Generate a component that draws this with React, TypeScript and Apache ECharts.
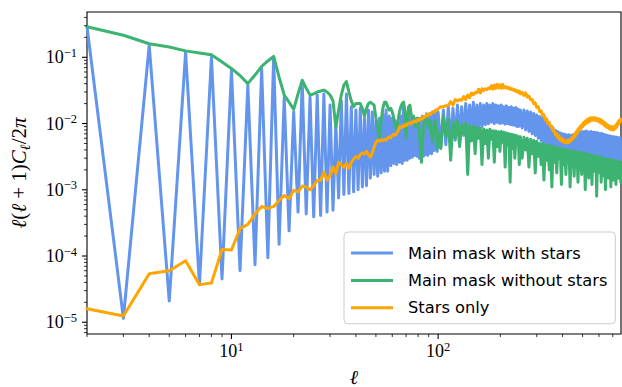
import { useEffect, useRef } from "react";
import * as echarts from "echarts";

// Multipole grid: every ℓ up to 100, then every 3rd up to 250, then every 5th.
function range(a: number, b: number, step: number): number[] {
  const out: number[] = [];
  for (let v = a; v <= b; v += step) out.push(v);
  return out;
}
const ELL = [...range(2, 100, 1), ...range(103, 250, 3), ...range(255, 765, 5)];

// Axis extents and tick values
const X_MIN = 2;
const X_MAX = 767;
const Y_MIN = 6.65e-6;
const Y_MAX = 0.483;
const X_MAJOR = [10, 100];
const Y_MAJOR = [1e-5, 1e-4, 1e-3, 1e-2, 1e-1];

const SERIES_NAMES = ["Main mask with stars", "Main mask without stars", "Stars only"];
const COLORS = ["#6495ED", "#3CB371", "#FFA500"];

// ---- Main mask with stars ----
const BLUE_LOW = [
  0.29, 1.15e-5, 0.152, 2.1e-5, 0.12, 3.7e-5, 0.10, 4.5e-5, 0.064,
  6.0e-5, 0.038, 7.4e-5, 0.067, 9.4e-5, 0.10, 1.5e-4, 0.025, 2.4e-4, 0.015,
  4.6e-4, 0.043, 4.3e-4, 0.025, 3.9e-4, 0.027, 4.1e-4, 0.028, 4.6e-4, 0.019,
  4.9e-4, 0.0099, 7.5e-4, 0.022, 8.5e-4, 0.028, 8.8e-4, 0.018, 9.3e-4, 0.016,
  1.0e-3, 0.017, 1.1e-3, 0.012, 1.15e-3, 0.016, 1.5e-3, 0.015, 1.7e-3, 0.011,
  1.6e-3, 0.012, 1.8e-3, 0.014, 1.9e-3, 0.016, 1.9e-3, 0.013, 2.3e-3, 0.012,
  2.5e-3, 0.011, 2.4e-3, 0.010, 2.6e-3, 0.013, 2.5e-3, 0.018, 2.8e-3, 0.011,
  2.8e-3, 0.014, 3.0e-3, 0.012, 3.1e-3, 0.012, 3.3e-3, 0.010, 3.2e-3, 0.012,
  3.0e-3, 0.012, 2.9e-3, 0.013, 3.2e-3, 0.012, 3.4e-3, 0.014, 3.3e-3, 0.013,
  3.6e-3, 0.014, 3.5e-3, 0.015, 3.9e-3, 0.014, 4.0e-3, 0.016, 3.8e-3, 0.015,
];
const BLUE_MID = [
  4.3e-3, 1.6e-2, 4.8e-3, 1.8e-2, 5.0e-3, 1.7e-2, 5.6e-3, 1.9e-2, 6.0e-3, 1.8e-2,
  6.6e-3, 2.0e-2, 7.0e-3, 1.9e-2, 7.8e-3, 2.1e-2, 8.2e-3, 1.9e-2, 8.8e-3, 2.0e-2,
  9.0e-3, 1.9e-2, 9.6e-3, 2.0e-2, 9.9e-3, 1.9e-2, 1.05e-2, 2.0e-2, 1.0e-2, 1.9e-2,
  1.04e-2, 1.85e-2, 1.0e-2, 1.9e-2, 1.02e-2, 1.8e-2, 9.8e-3, 1.85e-2, 1.0e-2, 1.75e-2,
  9.7e-3, 1.8e-2, 9.5e-3, 1.7e-2, 9.4e-3, 1.75e-2, 9.0e-3, 1.65e-2, 9.1e-3, 1.6e-2,
];
const BLUE_HIGH = [
  8.6e-3, 1.6e-2, 8.0e-3, 1.55e-2, 7.6e-3, 1.5e-2, 7.0e-3, 1.42e-2, 6.6e-3, 1.35e-2,
  6.0e-3, 1.28e-2, 5.5e-3, 1.2e-2, 5.0e-3, 1.06e-2, 4.6e-3, 1.0e-2, 4.5e-3, 9.2e-3,
  4.3e-3, 8.6e-3, 4.2e-3, 7.9e-3, 4.0e-3, 7.5e-3, 4.0e-3, 7.2e-3, 3.9e-3, 7.0e-3,
  3.8e-3, 6.9e-3, 3.8e-3, 6.7e-3, 3.7e-3, 6.8e-3, 3.6e-3, 6.6e-3, 3.6e-3, 6.8e-3,
  3.5e-3, 6.9e-3, 3.5e-3, 7.0e-3, 3.4e-3, 7.2e-3, 3.4e-3, 7.4e-3, 3.4e-3, 7.6e-3,
  3.3e-3, 7.5e-3, 3.3e-3, 7.7e-3, 3.2e-3, 7.5e-3, 3.2e-3, 7.4e-3, 3.2e-3, 7.6e-3,
  3.1e-3, 7.3e-3, 3.1e-3, 7.4e-3, 3.1e-3, 7.2e-3, 3.0e-3, 7.3e-3, 3.0e-3, 7.1e-3,
  3.0e-3, 7.0e-3, 3.0e-3, 7.1e-3, 2.9e-3, 6.9e-3, 2.9e-3, 6.8e-3, 2.9e-3, 6.7e-3,
  2.9e-3, 6.6e-3, 2.9e-3, 6.5e-3, 2.8e-3, 6.5e-3, 2.8e-3, 6.4e-3, 2.8e-3, 6.3e-3,
  2.8e-3, 6.3e-3, 2.8e-3, 6.2e-3, 2.8e-3, 6.2e-3, 2.7e-3, 6.1e-3, 2.8e-3, 6.1e-3,
  2.7e-3, 6.0e-3, 2.8e-3,
];

// ---- Main mask without stars ----
const GREEN_LOW = [
  0.29, 0.215, 0.16, 0.143, 0.125, 0.116, 0.109, 0.085, 0.068,
  0.053, 0.040, 0.054, 0.073, 0.088, 0.103, 0.050, 0.027, 0.021, 0.0164,
  0.028, 0.045, 0.034, 0.027, 0.028, 0.030, 0.031, 0.032, 0.030, 0.027,
  0.022, 0.0088, 0.016, 0.027, 0.038, 0.043, 0.030, 0.022, 0.018, 0.020,
  0.020, 0.020, 0.017, 0.013, 0.017, 0.020, 0.021, 0.020, 0.019, 0.012,
  0.0085, 0.0063, 0.011, 0.017, 0.021, 0.021, 0.018, 0.016, 0.017, 0.015,
  0.012, 0.0095, 0.0080, 0.011, 0.015, 0.018, 0.020, 0.021, 0.016, 0.0060,
  0.012, 0.018, 0.019, 0.014, 0.012, 0.013, 0.011, 0.0090, 0.012, 0.011,
  0.0075, 0.0045, 0.0026, 0.0050, 0.0090, 0.011, 0.0125, 0.012, 0.010, 0.0085,
  0.0095, 0.011, 0.0070, 0.0052, 0.0080, 0.0095, 0.011, 0.0068, 0.0042, 0.0075,
];
const GREEN_MID = [
  4.2e-3, 1.3e-2, 6.5e-3, 1.15e-2, 2.8e-3, 1.05e-2, 6.0e-3, 1.1e-2, 4.5e-3, 9.5e-3,
  7.0e-3, 1.0e-2, 1.7e-3, 9.2e-3, 5.5e-3, 9.0e-3, 3.5e-3, 8.8e-3, 6.0e-3, 8.5e-3,
  2.4e-3, 8.3e-3, 5.0e-3, 8.0e-3, 3.0e-3, 8.2e-3, 5.8e-3, 7.8e-3, 2.6e-3, 7.7e-3,
  4.5e-3, 7.5e-3, 3.8e-3, 7.6e-3, 5.2e-3, 7.4e-3, 2.2e-3, 7.2e-3, 4.8e-3, 7.0e-3,
  1.3e-3, 6.9e-3, 4.2e-3, 6.8e-3, 3.0e-3, 6.6e-3, 5.0e-3, 6.4e-3, 2.4e-3, 6.3e-3,
];
const GREEN_HIGH = [
  3.0e-3, 6.2e-3, 4.0e-3, 6.0e-3, 2.2e-3, 5.8e-3, 3.5e-3, 5.6e-3, 1.8e-3, 5.4e-3,
  3.2e-3, 5.0e-3, 2.4e-3, 5.0e-3, 1.4e-3, 4.8e-3, 2.8e-3, 4.7e-3, 2.0e-3, 4.6e-3,
  1.1e-3, 4.5e-3, 2.6e-3, 4.3e-3, 1.8e-3, 4.3e-3, 3.0e-3, 4.2e-3, 1.2e-3, 4.1e-3,
  2.4e-3, 4.1e-3, 1.7e-3, 4.0e-3, 2.8e-3, 3.9e-3, 1.1e-3, 3.9e-3, 2.2e-3, 3.8e-3,
  1.6e-3, 3.8e-3, 2.6e-3, 3.7e-3, 1.3e-3, 3.7e-3, 2.1e-3, 3.6e-3, 1.7e-3, 3.6e-3,
  2.5e-3, 3.5e-3, 1.0e-3, 3.5e-3, 2.0e-3, 3.4e-3, 1.5e-3, 3.4e-3, 2.3e-3, 3.3e-3,
  1.2e-3, 3.3e-3, 1.9e-3, 3.2e-3, 2.4e-3, 3.2e-3, 8.0e-4, 3.2e-3, 1.8e-3, 3.1e-3,
  2.2e-3, 3.1e-3, 1.3e-3, 3.0e-3, 2.0e-3, 3.0e-3, 1.6e-3, 3.0e-3, 1.0e-3, 2.9e-3,
  2.1e-3, 2.9e-3, 1.5e-3, 2.9e-3, 1.9e-3, 2.8e-3, 1.1e-3, 2.8e-3, 2.0e-3, 2.8e-3,
  1.4e-3, 2.8e-3, 1.8e-3, 2.7e-3, 1.2e-3, 2.7e-3, 1.9e-3, 2.7e-3, 1.5e-3, 2.7e-3,
  2.0e-3, 2.6e-3, 1.3e-3,
];

// ---- Stars only ----
const ORANGE_LOW = [
  1.6e-5, 1.24e-5, 5.4e-5, 6.0e-5, 8.5e-5, 3.7e-5, 3.9e-5, 1.26e-4, 1.23e-4,
  2.6e-4, 3.0e-4, 4.3e-4, 5.6e-4, 5.2e-4, 5.6e-4, 6.9e-4, 8.2e-4, 7.3e-4, 9.8e-4,
  9.3e-4, 1.14e-3, 1.1e-3, 1.0e-3, 1.15e-3, 1.39e-3, 1.39e-3, 1.85e-3, 1.39e-3, 1.65e-3,
  2.2e-3, 1.75e-3, 2.6e-3, 2.4e-3, 2.2e-3, 2.5e-3, 2.1e-3, 2.6e-3, 2.9e-3, 3.2e-3,
  3.0e-3, 3.4e-3, 3.6e-3, 3.5e-3, 3.8e-3, 3.4e-3, 3.1e-3, 3.6e-3, 4.4e-3, 5.2e-3,
  5.6e-3, 5.4e-3, 5.7e-3, 5.5e-3, 5.8e-3, 5.6e-3, 6.0e-3, 6.3e-3, 6.1e-3, 6.6e-3,
  6.9e-3, 6.7e-3, 7.1e-3, 7.8e-3, 8.9e-3, 8.6e-3, 9.2e-3, 9.0e-3, 9.6e-3, 9.3e-3,
  9.9e-3, 1.01e-2, 9.8e-3, 1.04e-2, 1.02e-2, 1.07e-2, 1.10e-2, 1.06e-2, 1.12e-2, 1.15e-2,
  1.11e-2, 1.18e-2, 1.21e-2, 1.17e-2, 1.27e-2, 1.24e-2, 1.30e-2, 1.35e-2, 1.31e-2, 1.38e-2,
  1.42e-2, 1.37e-2, 1.45e-2, 1.50e-2, 1.46e-2, 1.53e-2, 1.58e-2, 1.55e-2, 1.62e-2, 1.66e-2,
];
const ORANGE_MID = [
  1.8e-2, 1.78e-2, 1.86e-2, 1.88e-2, 2.14e-2, 1.9e-2, 2.3e-2, 2.2e-2, 2.3e-2, 2.25e-2,
  2.55e-2, 2.3e-2, 2.7e-2, 2.45e-2, 2.88e-2, 2.72e-2, 2.95e-2, 2.9e-2, 3.3e-2, 2.9e-2,
  3.35e-2, 3.15e-2, 3.35e-2, 3.25e-2, 3.45e-2, 3.35e-2, 3.75e-2, 3.3e-2, 3.8e-2, 3.4e-2,
  3.9e-2, 3.45e-2, 3.85e-2, 3.4e-2, 3.9e-2, 3.45e-2, 3.6e-2, 3.45e-2, 3.55e-2, 3.35e-2,
  3.45e-2, 3.25e-2, 3.35e-2, 3.15e-2, 3.25e-2, 3.05e-2, 3.15e-2, 2.95e-2, 3.1e-2, 2.8e-2,
];
const ORANGE_HIGH = [
  2.95e-2, 2.65e-2, 2.9e-2, 2.5e-2, 2.6e-2, 2.3e-2, 2.3e-2, 2.0e-2, 2.05e-2, 1.75e-2,
  1.8e-2, 1.52e-2, 1.56e-2, 1.32e-2, 1.36e-2, 1.13e-2, 1.18e-2, 1.0e-2, 1.04e-2, 8.8e-3,
  9.1e-3, 7.7e-3, 7.9e-3, 6.7e-3, 7.1e-3, 6.0e-3, 6.5e-3, 5.6e-3, 6.0e-3, 5.3e-3,
  5.7e-3, 5.2e-3, 5.5e-3, 5.1e-3, 5.6e-3, 5.2e-3, 5.8e-3, 5.5e-3, 6.2e-3, 5.9e-3,
  6.9e-3, 6.4e-3, 7.5e-3, 7.0e-3, 8.3e-3, 7.7e-3, 8.9e-3, 8.3e-3, 9.6e-3, 8.9e-3,
  1.04e-2, 9.5e-3, 1.09e-2, 1.0e-2, 1.14e-2, 1.04e-2, 1.18e-2, 1.07e-2, 1.22e-2, 1.11e-2,
  1.21e-2, 1.12e-2, 1.23e-2, 1.13e-2, 1.22e-2, 1.11e-2, 1.2e-2, 1.09e-2, 1.18e-2, 1.07e-2,
  1.16e-2, 1.03e-2, 1.13e-2, 1.0e-2, 1.09e-2, 9.8e-3, 1.05e-2, 9.3e-3, 1.01e-2, 8.9e-3,
  9.7e-3, 8.7e-3, 9.4e-3, 8.4e-3, 9.2e-3, 8.2e-3, 9.0e-3, 8.1e-3, 8.9e-3, 8.0e-3,
  8.9e-3, 8.1e-3, 9.1e-3, 8.4e-3, 9.5e-3, 8.8e-3, 1.01e-2, 9.4e-3, 1.07e-2, 1.0e-2,
  1.13e-2, 1.05e-2, 1.16e-2,
];

const BLUE = [...BLUE_LOW, ...BLUE_MID, ...BLUE_HIGH];
const GREEN = [...GREEN_LOW, ...GREEN_MID, ...GREEN_HIGH];
const ORANGE = [...ORANGE_LOW, ...ORANGE_MID, ...ORANGE_HIGH];

const pairs = (vals: number[]) =>
  ELL.slice(0, vals.length).map((l, i) => [l, vals[i]]);

const SERIF = "'Liberation Serif', 'DejaVu Serif', serif";
const SANS = "'DejaVu Sans', sans-serif";

// minor ticks at 2..9 × 10^k inside [lo, hi]
function minorTicks(lo: number, hi: number): number[] {
  const out: number[] = [];
  for (let e = Math.floor(Math.log10(lo)); e <= Math.ceil(Math.log10(hi)); e++) {
    for (let k = 2; k <= 9; k++) {
      const v = k * Math.pow(10, e);
      if (v >= lo * 0.9999 && v <= hi * 1.0001) out.push(v);
    }
  }
  return out;
}

function powLabel(v: number): string {
  const e = Math.log10(v);
  const r = Math.round(e);
  if (Math.abs(e - r) > 1e-6) return "";
  const exp = r < 0 ? "\u2212" + Math.abs(r) : String(r);
  return "{b|10}{s|" + exp + "}";
}

const labelRich = {
  b: { fontFamily: SERIF, fontSize: 18, lineHeight: 22, color: "#000" },
  s: { fontFamily: SERIF, fontSize: 12.5, lineHeight: 12, verticalAlign: "top", color: "#000" },
};

export default function App() {
  const ref = useRef<HTMLDivElement>(null);

  useEffect(() => {
    document.body.style.margin = "0";
    if (!ref.current) return;
    const chart = echarts.init(ref.current, null, { renderer: "svg" });

    const mkSeries = (i: number, vals: number[]) => ({
      name: SERIES_NAMES[i],
      type: "line",
      data: pairs(vals),
      showSymbol: false,
      symbol: "none",
      z: 2 + i,
      clip: true,
      lineStyle: { color: COLORS[i], width: 3, join: "round", cap: "round" },
      itemStyle: { color: COLORS[i] },
      emphasis: { disabled: true },
    });

    chart.setOption({
      animation: false,
      backgroundColor: "#fff",
      grid: {
        left: 87,
        top: 12,
        right: 1,
        bottom: 53,
        containLabel: false,
        outerBoundsMode: "none",
        show: true,
        borderColor: "#000",
        borderWidth: 1.1,
        backgroundColor: "transparent",
      },
      xAxis: {
        type: "log",
        logBase: 10,
        min: X_MIN,
        max: X_MAX,
        axisLine: { show: false },
        axisTick: { show: false },
        splitLine: { show: false },
        minorTick: { show: false },
        axisLabel: {
          margin: 6,
          formatter: (v: number) => powLabel(v),
          rich: labelRich,
        },
      },
      yAxis: {
        type: "log",
        logBase: 10,
        min: Y_MIN,
        max: Y_MAX,
        axisLine: { show: false },
        axisTick: { show: false },
        splitLine: { show: false },
        minorTick: { show: false },
        axisLabel: {
          margin: 10,
          formatter: (v: number) => powLabel(v),
          rich: labelRich,
        },
      },
      legend: {
        orient: "vertical",
        left: 344,
        top: 232,
        icon: "rect",
        itemWidth: 42,
        itemHeight: 3,
        itemGap: 7.4,
        padding: [11, 8, 6, 7],
        selectedMode: false,
        backgroundColor: "rgba(255,255,255,0.8)",
        borderColor: "#cccccc",
        borderWidth: 1,
        borderRadius: 4,
        textStyle: {
          fontFamily: SANS,
          fontSize: 16.3,
          lineHeight: 20,
          color: "#000",
          padding: [0, 0, 0, 10],
        },
        data: SERIES_NAMES,
      },
      series: [mkSeries(0, BLUE), mkSeries(1, GREEN), mkSeries(2, ORANGE)],
    });

    // Tick marks, drawn outward from the axis using the axes' own scales
    const bottom = chart.convertToPixel({ yAxisIndex: 0 }, Y_MIN) as number;
    const left = chart.convertToPixel({ xAxisIndex: 0 }, X_MIN) as number;
    const tickLine = (x1: number, y1: number, x2: number, y2: number, w: number) => ({
      type: "line",
      silent: true,
      z: 10,
      shape: { x1, y1, x2, y2 },
      style: { stroke: "#000", lineWidth: w },
    });
    const ticks: any[] = [];
    X_MAJOR.forEach((v) => {
      const x = chart.convertToPixel({ xAxisIndex: 0 }, v) as number;
      ticks.push(tickLine(x, bottom, x, bottom + 5, 1.1));
    });
    minorTicks(X_MIN, X_MAX).forEach((v) => {
      const x = chart.convertToPixel({ xAxisIndex: 0 }, v) as number;
      ticks.push(tickLine(x, bottom, x, bottom + 3, 0.8));
    });
    Y_MAJOR.forEach((v) => {
      const y = chart.convertToPixel({ yAxisIndex: 0 }, v) as number;
      ticks.push(tickLine(left - 5, y, left, y, 1.1));
    });
    minorTicks(Y_MIN, Y_MAX).forEach((v) => {
      const y = chart.convertToPixel({ yAxisIndex: 0 }, v) as number;
      ticks.push(tickLine(left - 3, y, left, y, 0.8));
    });

    const midX = (left + (chart.convertToPixel({ xAxisIndex: 0 }, X_MAX) as number)) / 2;
    const midY = (bottom + (chart.convertToPixel({ yAxisIndex: 0 }, Y_MAX) as number)) / 2;

    chart.setOption({
      graphic: [
        ...ticks,
        {
          type: "text",
          silent: true,
          x: midX,
          y: 377,
          style: {
            text: "\u2113",
            fontFamily: SERIF,
            fontStyle: "italic",
            fontSize: 20,
            fill: "#000",
            align: "center",
            verticalAlign: "middle",
          },
        },
        {
          type: "text",
          silent: true,
          x: 19,
          y: midY,
          rotation: Math.PI / 2,
          style: {
            text: "{i|\u2113}{r|(}{i|\u2113}{r| + 1)}{i|C}{sub|\u2113}{r|/2}{i|\u03c0}",
            align: "center",
            verticalAlign: "middle",
            fill: "#000",
            rich: {
              i: { fontFamily: SERIF, fontStyle: "italic", fontSize: 21, lineHeight: 26, fill: "#000" },
              r: { fontFamily: SERIF, fontSize: 21, lineHeight: 26, fill: "#000" },
              sub: {
                fontFamily: SERIF,
                fontStyle: "italic",
                fontSize: 14,
                lineHeight: 14,
                verticalAlign: "bottom",
                fill: "#000",
              },
            },
          },
        },
      ],
    });

    return () => chart.dispose();
  }, []);

  return <div ref={ref} style={{ width: 622, height: 387 }} />;
}
